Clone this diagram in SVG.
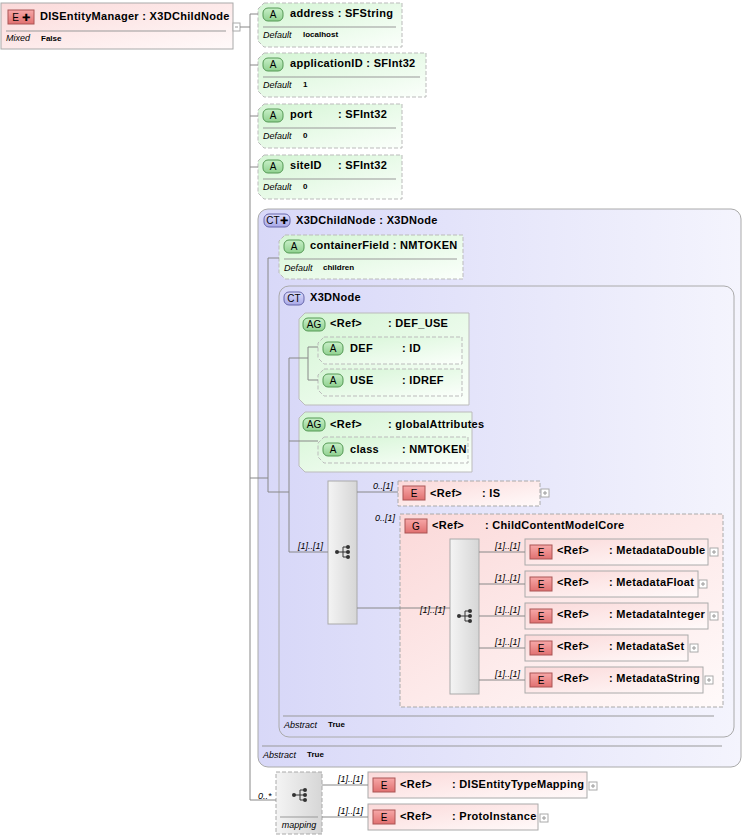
<svg xmlns="http://www.w3.org/2000/svg" width="745" height="837" viewBox="0 0 745 837">
<defs>
<linearGradient id="gE" x1="0" y1="0" x2="1" y2="1"><stop offset="0" stop-color="#fbd9d9"/><stop offset="1" stop-color="#fffafa"/></linearGradient>
<linearGradient id="gA" x1="0" y1="0" x2="1" y2="1"><stop offset="0" stop-color="#d4f5d4"/><stop offset="1" stop-color="#fbfffb"/></linearGradient>
<linearGradient id="gCT" x1="0" y1="0" x2="1" y2="0"><stop offset="0" stop-color="#d8d8f8"/><stop offset="1" stop-color="#f4f4fd"/></linearGradient>
<linearGradient id="gS" x1="0" y1="0" x2="1" y2="0"><stop offset="0" stop-color="#f4f4f4"/><stop offset="1" stop-color="#d6d6d6"/></linearGradient>
<linearGradient id="gB" x1="0" y1="0" x2="0" y2="1"><stop offset="0" stop-color="#f7a8a8"/><stop offset="1" stop-color="#e07070"/></linearGradient>
<linearGradient id="gBA" x1="0" y1="0" x2="0" y2="1"><stop offset="0" stop-color="#c8f0c8"/><stop offset="1" stop-color="#8fd08f"/></linearGradient>
<linearGradient id="gBC" x1="0" y1="0" x2="0" y2="1"><stop offset="0" stop-color="#dcdcfa"/><stop offset="1" stop-color="#a8a8e8"/></linearGradient>
<g id="seq"><circle cx="-6" cy="0" r="2" fill="#333"/><path d="M-6 0H0M0 -5V5M0 -5H5M0 0H5M0 5H5" stroke="#333" fill="none"/><circle cx="5" cy="-5" r="2" fill="#333"/><circle cx="5" cy="0" r="2" fill="#333"/><circle cx="5" cy="5" r="2" fill="#333"/></g>
<g id="plus"><rect x="0" y="0" width="8" height="8" fill="#fff" stroke="#aaa"/><path d="M2 4H6M4 2V6" stroke="#999"/></g>
</defs>
<style>
text{font-family:"Liberation Sans",Arial,sans-serif;font-size:11px;fill:#000}
.t{font-weight:bold;letter-spacing:0.3px}
.s{font-size:8px;font-weight:bold}
.i{font-size:9px;font-style:italic}
.e{fill:url(#gE);stroke:#aaa}
.ed{fill:url(#gE);stroke:#aaa;stroke-dasharray:4 2}
.a{fill:url(#gA);stroke:#bbb;stroke-dasharray:4 2}
.as{fill:url(#gA);stroke:#bbb}
.sep{stroke:#999;fill:none}
.c{stroke:#888;fill:none}
.b{fill:url(#gB);stroke:#a55}
.ba{fill:url(#gBA);stroke:#595}
.bc{fill:url(#gBC);stroke:#66a}
.bt{font-size:10px;text-anchor:middle}
</style>

<g id="root">
<rect x="1" y="3" width="232" height="46" class="e"/>
<rect x="8" y="10" width="26" height="14" class="b"/><text x="21" y="21" class="bt">E ✚</text>
<text x="40" y="20" class="t">DISEntityManager : X3DChildNode</text>
<line x1="6" y1="31" x2="226" y2="31" class="sep"/>
<text x="6" y="41" class="i">Mixed</text><text x="41" y="41" class="s">False</text>
<rect x="233" y="23" width="7" height="8" fill="#fff" stroke="#aaa"/><path d="M235 27H238" stroke="#999"/>
</g>

<g id="address"><path d="M264 3H402V47H264L258 41V9Z" class="a"/>
<rect x="263" y="8" width="20" height="13" rx="5" class="ba"/><text x="273" y="18" class="bt">A</text>
<text x="290" y="17" class="t">address  : SFString</text><line x1="263" y1="27" x2="396" y2="27" class="sep"/>
<text x="263" y="38" class="i">Default</text><text x="303" y="37" class="s">localhost</text></g>
<g id="applicationID"><path d="M264 53H426V97H264L258 91V59Z" class="a"/>
<rect x="263" y="58" width="20" height="13" rx="5" class="ba"/><text x="273" y="68" class="bt">A</text>
<text x="290" y="67" class="t">applicationID : SFInt32</text><line x1="263" y1="77" x2="420" y2="77" class="sep"/>
<text x="263" y="88" class="i">Default</text><text x="303" y="87" class="s">1</text></g>
<g id="port"><path d="M264 104H402V148H264L258 142V110Z" class="a"/>
<rect x="263" y="109" width="20" height="13" rx="5" class="ba"/><text x="273" y="119" class="bt">A</text>
<text x="290" y="118" class="t">port</text><text x="338" y="118" class="t">: SFInt32</text><line x1="263" y1="128" x2="396" y2="128" class="sep"/>
<text x="263" y="139" class="i">Default</text><text x="303" y="138" class="s">0</text></g>
<g id="siteID"><path d="M264 155H402V199H264L258 193V161Z" class="a"/>
<rect x="263" y="160" width="20" height="13" rx="5" class="ba"/><text x="273" y="170" class="bt">A</text>
<text x="290" y="169" class="t">siteID</text><text x="338" y="169" class="t">: SFInt32</text><line x1="263" y1="179" x2="396" y2="179" class="sep"/>
<text x="263" y="190" class="i">Default</text><text x="303" y="189" class="s">0</text></g>

<g id="X3DChildNode">
<rect x="258" y="209" width="483" height="558" rx="10" fill="url(#gCT)" stroke="#aaa"/>
<rect x="264" y="214" width="26" height="13" rx="5" class="bc"/><text x="277" y="224" class="bt">CT✚</text>
<text x="296" y="224" class="t">X3DChildNode : X3DNode</text>
<line x1="262" y1="746" x2="722" y2="746" class="sep"/>
<text x="263" y="758" class="i">Abstract</text><text x="307" y="757" class="s">True</text>
</g>
<g id="containerField"><path d="M285 235H463V279H285L279 273V241Z" class="a"/>
<rect x="284" y="240" width="20" height="13" rx="5" class="ba"/><text x="294" y="250" class="bt">A</text>
<text x="310" y="249" class="t">containerField : NMTOKEN</text><line x1="284" y1="259" x2="457" y2="259" class="sep"/>
<text x="284" y="271" class="i">Default</text><text x="323" y="270" class="s">children</text></g>

<g id="X3DNode">
<rect x="279" y="286" width="455" height="451" rx="10" fill="url(#gCT)" stroke="#aaa"/>
<rect x="284" y="292" width="20" height="13" rx="5" class="bc"/><text x="294" y="302" class="bt">CT</text>
<text x="310" y="301" class="t">X3DNode</text>
<line x1="283" y1="716" x2="714" y2="716" class="sep"/>
<text x="284" y="728" class="i">Abstract</text><text x="328" y="727" class="s">True</text>
</g>
<g id="DEF_USE"><path d="M305 313H469V405H305L299 399V319Z" class="as"/>
<rect x="303" y="318" width="22" height="13" rx="5" class="ba"/><text x="314" y="328" class="bt">AG</text>
<text x="330" y="327" class="t">&lt;Ref&gt;</text><text x="388" y="327" class="t">: DEF_USE</text></g>
<g id="DEF"><path d="M324 337H462V364H324L318 358V343Z" class="a"/>
<rect x="323" y="342" width="20" height="13" rx="5" class="ba"/><text x="333" y="352" class="bt">A</text>
<text x="350" y="352" class="t">DEF</text><text x="402" y="352" class="t">: ID</text></g>
<g id="USE"><path d="M324 369H462V396H324L318 390V375Z" class="a"/>
<rect x="323" y="374" width="20" height="13" rx="5" class="ba"/><text x="333" y="384" class="bt">A</text>
<text x="350" y="384" class="t">USE</text><text x="402" y="384" class="t">: IDREF</text></g>
<g id="globalAttributes"><path d="M305 412H472V472H305L299 466V418Z" class="as"/>
<rect x="303" y="418" width="22" height="13" rx="5" class="ba"/><text x="314" y="428" class="bt">AG</text>
<text x="330" y="428" class="t">&lt;Ref&gt;</text><text x="388" y="428" class="t">: globalAttributes</text></g>
<g id="class"><path d="M324 437H468V463H324L318 457V443Z" class="a"/>
<rect x="323" y="443" width="20" height="13" rx="5" class="ba"/><text x="333" y="453" class="bt">A</text>
<text x="350" y="453" class="t">class</text><text x="402" y="453" class="t">: NMTOKEN</text></g>

<g id="seq1"><rect x="328" y="481" width="29" height="143" fill="url(#gS)" stroke="#aaa"/><use href="#seq" x="343" y="552"/></g>
<g id="IS"><rect x="398" y="481" width="142" height="25" class="ed"/>
<rect x="403" y="486" width="22" height="14" class="b"/><text x="414" y="497" class="bt">E</text>
<text x="430" y="497" class="t">&lt;Ref&gt;</text><text x="482" y="497" class="t">: IS</text><use href="#plus" x="541" y="489"/></g>
<g id="ChildContentModelCore"><rect x="400" y="514" width="323" height="193" class="ed"/>
<rect x="405" y="519" width="22" height="14" class="b"/><text x="416" y="530" class="bt">G</text>
<text x="432" y="529" class="t">&lt;Ref&gt;</text><text x="485" y="529" class="t">: ChildContentModelCore</text></g>
<g id="seq2"><rect x="450" y="539" width="29" height="155" fill="url(#gS)" stroke="#aaa"/><use href="#seq" x="465" y="616"/></g>
<g id="MetadataDouble"><rect x="525" y="539" width="183" height="26" class="e"/>
<rect x="530" y="545" width="22" height="14" class="b"/><text x="541" y="556" class="bt">E</text>
<text x="557" y="554" class="t">&lt;Ref&gt;</text><text x="609" y="554" class="t">: MetadataDouble</text><use href="#plus" x="710" y="548"/></g>
<g id="MetadataFloat"><rect x="525" y="571" width="173" height="26" class="e"/>
<rect x="530" y="577" width="22" height="14" class="b"/><text x="541" y="588" class="bt">E</text>
<text x="557" y="586" class="t">&lt;Ref&gt;</text><text x="609" y="586" class="t">: MetadataFloat</text><use href="#plus" x="699" y="580"/></g>
<g id="MetadataInteger"><rect x="525" y="603" width="183" height="26" class="e"/>
<rect x="530" y="609" width="22" height="14" class="b"/><text x="541" y="620" class="bt">E</text>
<text x="557" y="618" class="t">&lt;Ref&gt;</text><text x="609" y="618" class="t">: MetadataInteger</text><use href="#plus" x="710" y="612"/></g>
<g id="MetadataSet"><rect x="525" y="635" width="163" height="26" class="e"/>
<rect x="530" y="641" width="22" height="14" class="b"/><text x="541" y="652" class="bt">E</text>
<text x="557" y="650" class="t">&lt;Ref&gt;</text><text x="609" y="650" class="t">: MetadataSet</text><use href="#plus" x="690" y="644"/></g>
<g id="MetadataString"><rect x="525" y="667" width="178" height="26" class="e"/>
<rect x="530" y="673" width="22" height="14" class="b"/><text x="541" y="684" class="bt">E</text>
<text x="557" y="682" class="t">&lt;Ref&gt;</text><text x="609" y="682" class="t">: MetadataString</text><use href="#plus" x="705" y="676"/></g>

<g id="mapping"><rect x="276" y="772" width="46" height="62" fill="url(#gS)" stroke="#aaa" stroke-dasharray="4 2"/>
<use href="#seq" x="300" y="795"/><line x1="280" y1="817" x2="318" y2="817" class="sep"/>
<text x="299" y="828" class="i" text-anchor="middle">mapping</text></g>
<g id="DISEntityTypeMapping"><rect x="368" y="772" width="219" height="26" class="e"/>
<rect x="373" y="778" width="22" height="14" class="b"/><text x="384" y="789" class="bt">E</text>
<text x="400" y="788" class="t">&lt;Ref&gt;</text><text x="452" y="788" class="t">: DISEntityTypeMapping</text><use href="#plus" x="589" y="782"/></g>
<g id="ProtoInstance"><rect x="368" y="804" width="170" height="26" class="e"/>
<rect x="373" y="810" width="22" height="14" class="b"/><text x="384" y="821" class="bt">E</text>
<text x="400" y="820" class="t">&lt;Ref&gt;</text><text x="452" y="820" class="t">: ProtoInstance</text><use href="#plus" x="540" y="814"/></g>

<g id="connectors" class="c">
<path d="M240 27H250M250 14V800H276M250 14H258M250 65H258M250 116H258M250 167H258M250 478H268M268 258V492M268 258H279M268 492H289M289 358V552H328M289 358H308M308 347V380M308 347H318M308 380H318M289 441H318"/>
<path d="M357 492H398M357 608H450M479 552H525M479 584H525M479 616H525M479 648H525M479 680H525M322 785H368M322 817H368"/>
</g>
<g id="labels">
<text x="258" y="799" class="i">0..*</text>
<text x="373" y="489" class="i">0..[1]</text>
<text x="375" y="521" class="i">0..[1]</text>
<text x="298" y="549" class="i">[1]..[1]</text>
<text x="420" y="613" class="i">[1]..[1]</text>
<text x="495" y="549" class="i">[1]..[1]</text>
<text x="495" y="581" class="i">[1]..[1]</text>
<text x="495" y="613" class="i">[1]..[1]</text>
<text x="495" y="645" class="i">[1]..[1]</text>
<text x="495" y="677" class="i">[1]..[1]</text>
<text x="338" y="782" class="i">[1]..[1]</text>
<text x="338" y="814" class="i">[1]..[1]</text>
</g>
</svg>
